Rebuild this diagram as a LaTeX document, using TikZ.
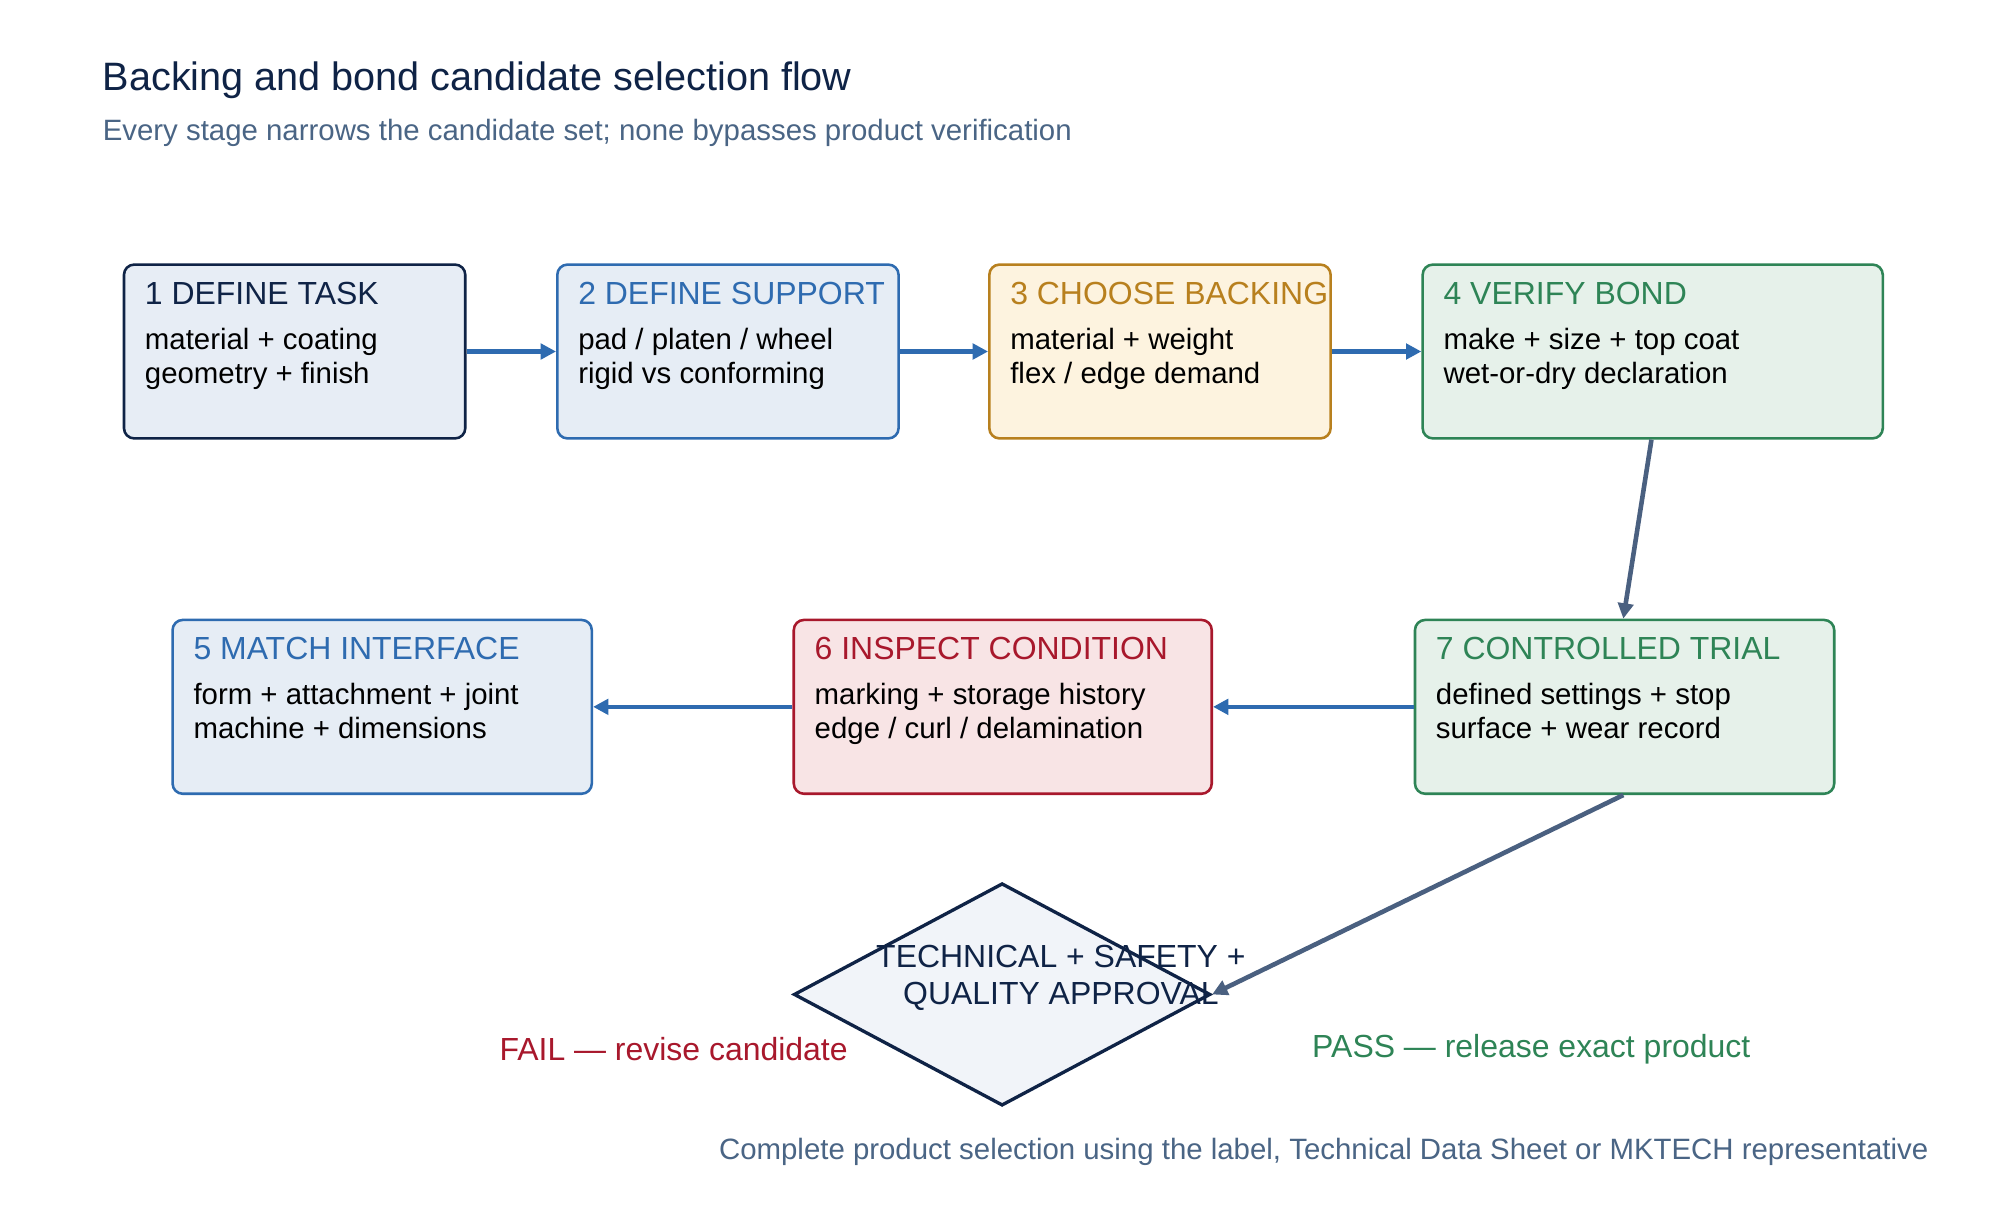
\documentclass[tikz,border=0pt]{standalone}
\usepackage{fontspec}
\setmainfont{Liberation Sans}
\usetikzlibrary{shapes.geometric,arrows.meta}
\definecolor{navy}{HTML}{0F2346}
\definecolor{navyf}{HTML}{E7EDF5}
\definecolor{blu}{HTML}{2E6BB0}
\definecolor{bluf}{HTML}{E6EDF5}
\definecolor{gold}{HTML}{B8801E}
\definecolor{goldf}{HTML}{FDF3DF}
\definecolor{grn}{HTML}{2E8456}
\definecolor{grnf}{HTML}{E6F1EA}
\definecolor{rd}{HTML}{A8182C}
\definecolor{rdf}{HTML}{F8E4E5}
\definecolor{slate}{HTML}{4A6080}
\definecolor{sub}{HTML}{4A6585}
\tikzset{
 box/.style={draw=#1,line width=1pt,rounded corners=4pt,anchor=north west,inner sep=0pt},
 ttl/.style={anchor=north west,inner sep=0pt,font=\fontsize{12.5}{14}\selectfont,text=#1},
 bdy/.style={anchor=north west,inner sep=0pt,font=\fontsize{11.5}{13.5}\selectfont,align=left,text=black},
 arr/.style={draw=blu,line width=1.8pt,-{Triangle[length=6pt,width=6pt]}},
 arr2/.style={draw=slate,line width=1.8pt,-{Triangle[length=6pt,width=6pt]}},
}
\newcommand{\stage}[9]{% name x y w color fill title line1 line2
 \node[box=#4,fill=#5,minimum width=#6*0.5pt,minimum height=136*0.5pt] (#1) at (#2,#3) {};
 \node[ttl=#4] (#1t) at ($(#1.north west)+(17,14)$) {#7};
 \node[bdy] (#1b) at ($(#1.north west)+(17,50)$) {#8\\#9};
}
\usetikzlibrary{calc}
\begin{document}
\begin{tikzpicture}[x=0.5pt,y=-0.5pt]
\useasboundingbox[fill=white] (0,0) rectangle (1560,962);
\node[anchor=west,inner sep=0pt,font=\fontsize{15.5}{18}\selectfont,text=navy] (title) at (80,63) {Backing and bond candidate selection flow};
\node[anchor=west,inner sep=0pt,font=\fontsize{11.5}{14}\selectfont,text=sub] (subt) at (80,104) {Every stage narrows the candidate set; none bypasses product verification};
\stage{s1}{96}{206}{navy}{navyf}{267}{1 DEFINE TASK}{material + coating}{geometry + finish}
\stage{s2}{435}{206}{blu}{bluf}{267}{2 DEFINE SUPPORT}{pad / platen / wheel}{rigid vs conforming}
\stage{s3}{773}{206}{gold}{goldf}{267}{3 CHOOSE BACKING}{material + weight}{flex / edge demand}
\stage{s4}{1112}{206}{grn}{grnf}{360}{4 VERIFY BOND}{make + size + top coat}{wet-or-dry declaration}
\stage{s5}{134}{484}{blu}{bluf}{328}{5 MATCH INTERFACE}{form + attachment + joint}{machine + dimensions}
\stage{s6}{620}{484}{rd}{rdf}{327}{6 INSPECT CONDITION}{marking + storage history}{edge / curl / delamination}
\stage{s7}{1106}{484}{grn}{grnf}{328}{7 CONTROLLED TRIAL}{defined settings + stop}{surface + wear record}
\node[diamond,draw=navy,fill=navyf!60,line width=1.3pt,minimum width=326*0.5pt,minimum height=174*0.5pt,inner sep=0pt,aspect=1.87] (d) at (784,778) {};
\node[align=center,font=\fontsize{12.5}{14.5}\selectfont,text=navy,inner sep=0pt] (dt) at (830,765) {TECHNICAL + SAFETY +\\QUALITY APPROVAL};
\draw[arr] (s1.east) -- (s2.west);
\draw[arr] (s2.east) -- (s3.west);
\draw[arr] (s3.east) -- (s4.west);
\draw[arr2] ($(s4.south west)+(180,0)$) -- ($(s7.north west)+(164,0)$);
\draw[arr] (s7.west) -- (s6.east);
\draw[arr] (s6.west) -- (s5.east);
\draw[arr2] ($(s7.south west)+(164,0)$) -- (d.east);
\node[font=\fontsize{12.5}{14}\selectfont,text=rd,inner sep=0pt] (fail) at (527,821) {FAIL — revise candidate};
\node[font=\fontsize{12.5}{14}\selectfont,text=grn,inner sep=0pt] (pass) at (1198,821) {PASS — release exact product};
\node[anchor=east,font=\fontsize{11.5}{14}\selectfont,text=sub,inner sep=0pt] (foot) at (1509,901) {Complete product selection using the label, Technical Data Sheet or MKTECH representative};
\end{tikzpicture}
\end{document}
